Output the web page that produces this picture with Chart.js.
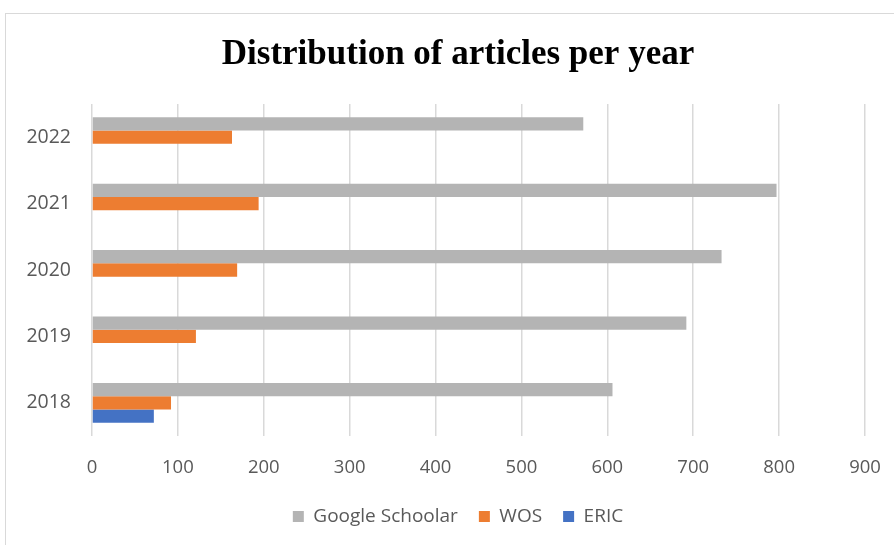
<!DOCTYPE html>
<html>
<head>
<meta charset="utf-8">
<script src="https://cdn.jsdelivr.net/npm/chart.js@4"></script>
<style>
  html, body { margin: 0; padding: 0; background: #fff; overflow: hidden; }
  #wrap {
    position: absolute;
    left: 5px;
    top: 13px;
    width: 904px;
    height: 560px;
    border: 1px solid #d9d9d9;
    background: #fff;
  }
</style>
</head>
<body>
<div id="wrap"><canvas id="chart"></canvas></div>
<script>
const years = ["2022", "2021", "2020", "2019", "2018"];
const googleScholar = [572, 797, 733, 692, 606];
const wos = [163, 194, 169, 121, 92];
const eric = [null, null, null, null, 72];
const xTicks = [0, 100, 200, 300, 400, 500, 600, 700, 800, 900];

const textFont = "'Open Sans', 'Liberation Sans', sans-serif";

const ctx = document.getElementById("chart").getContext("2d");

const chart = new Chart(ctx, {
  type: "bar",
  data: {
    labels: years,
    datasets: [
      {
        label: "Google Schoolar",
        data: googleScholar,
        backgroundColor: "#b4b4b4",
      },
      {
        label: "WOS",
        data: wos,
        backgroundColor: "#ed7d31",
      },
      {
        label: "ERIC",
        data: eric,
        backgroundColor: "#4472c4",
      },
    ],
  },
  options: {
    indexAxis: "y",
    responsive: true,
    maintainAspectRatio: false,
    animation: false,
    layout: { padding: { left: 0, right: 0, top: 0, bottom: 38 } },
    datasets: {
      bar: { categoryPercentage: 0.6, barPercentage: 1.0 },
    },
    plugins: {
      title: {
        display: true,
        text: "Distribution of articles per year",
        color: "#000",
        font: { family: "'Liberation Serif', 'DejaVu Serif', serif", size: 35, weight: "bold" },
        padding: { top: 20, bottom: 28 },
      },
      legend: {
        position: "bottom",
        labels: {
          color: "#595959",
          font: { family: textFont, size: 19 },
          boxWidth: 11,
          boxHeight: 11,
          padding: 21,
        },
      },
      tooltip: { enabled: false },
    },
    scales: {
      x: {
        min: 0,
        max: 900,
        afterBuildTicks: (scale) => {
          scale.ticks = xTicks.map(v => ({ value: v }));
        },
        afterFit: (scale) => { scale.height = 50; },
        ticks: {
          color: "#595959",
          font: { family: textFont, size: 18.5 },
          padding: 21,
        },
        grid: { color: "#d9d9d9", lineWidth: 1.5, drawTicks: false },
        border: { display: false },
      },
      y: {
        afterFit: (scale) => { scale.width = 86; },
        ticks: {
          color: "#595959",
          font: { family: textFont, size: 19.5 },
          padding: 21,
        },
        grid: { display: false, drawTicks: false },
        border: { display: false },
      },
      // empty right-hand axis, only keeps the plot clear of the right edge
      yRight: {
        type: "category",
        position: "right",
        afterFit: (scale) => { scale.width = 45; },
        ticks: { display: false },
        grid: { display: false, drawTicks: false },
        border: { display: false },
      },
    },
  },
});
</script>
</body>
</html>
